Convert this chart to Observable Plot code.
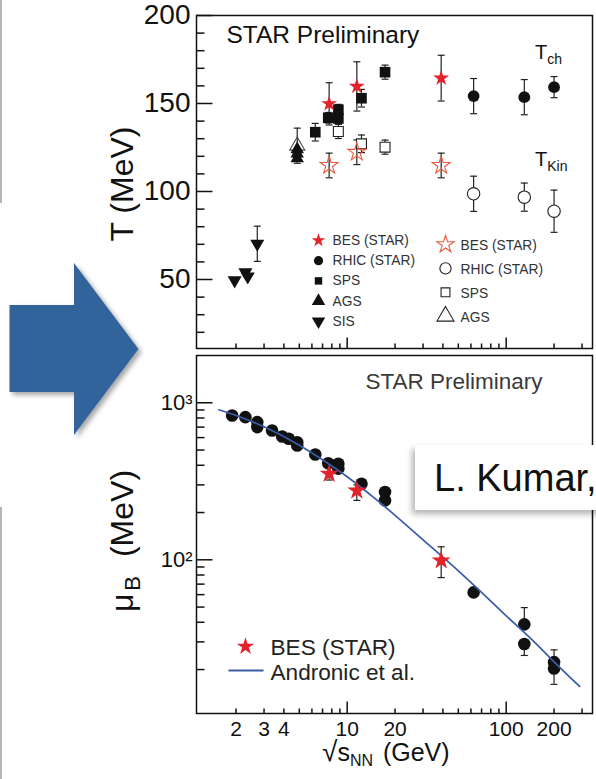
<!DOCTYPE html>
<html><head><meta charset="utf-8">
<script src="https://cdn.jsdelivr.net/npm/d3@7"></script>
<script src="https://cdn.jsdelivr.net/npm/@observablehq/plot@0.6"></script>
<style>
body{margin:0;background:#fff;}
#root{position:relative;width:596px;height:779px;overflow:hidden;background:#fff;font-family:"Liberation Sans",Arial,Helvetica,sans-serif;}
#root > svg, #root > div{position:absolute;}
</style></head><body><div id="root"></div>
<script>
// ---------- data ----------
// top panel: [sqrt(sNN) GeV, T MeV, error]
const besTch   = [[7.7,149.8,12],[11.5,159.7,14],[39,164.4,13]];
const rhicTch  = [[62.4,154.2,10],[130,153.6,10],[200,159.3,6]];
const spsTch   = [[6.3,133.7,5],[7.6,141.9,3],[8.8,141.5,3],[8.8,146.5,3],[12.3,153,5],[17.3,167.8,4]];
const agsTch   = [[4.85,118.8,0],[4.85,121.5,0],[4.85,124,0]];
const sisTch   = [[1.96,49.5,0],[2.29,54.1,0],[2.37,51.7,0],[2.72,70.3,10]];
const besTkin  = [[7.7,114.8,7],[11.5,122.3,7],[39,114.8,7]];
const rhicTkin = [[62.4,98.7,10],[130,96.8,8],[200,88.8,12]];
const spsTkin  = [[8.8,134.1,4],[12.3,127.1,5],[17.3,125.2,4]];
const agsTkin  = [[4.85,126,10]];
// bottom panel: [sqrt(sNN), muB]
const muData = [[1.89,830],[2.29,810],[2.72,753],[2.72,700],[3.37,666],[3.9,610],[4.29,590],[4.85,561],[4.85,535],[6.3,468],[7.6,412],[8.8,409],[8.8,381],[12.3,305],[17.3,270],[17.3,239],[62.4,62],[130,38.8],[130,29.1],[200,22.3],[200,20.3]];
// [sqrt(sNN), muB, low, high]
const muErr  = [[130,38.8,38.8,49.6],[130,29.1,24.6,29.1],[200,22.3,22.3,26.7],[200,20.3,16.1,20.3]];
const besMu  = [[7.7,353,322,388],[11.5,276,239,300],[39,99,77,121]];
const andronicE  = [1.56,2,3,5,7,10,15,20,30,50,70,100,150,200,290];
const andronicMu = [902,830,703,537,434,338,245,192,134,85,62,44,30,22.4,15.6];
// axes
const xMinor = [2,3,4,5,6,7,8,9,20,30,40,50,60,70,80,90,200,300];
const xMajor = [10,100];
const xLabels = [2,3,4,10,20,100,200];
const tMajor = [50,100,150,200];
const tMinor = [20,30,40,60,70,80,90,110,120,130,140,160,170,180,190];
const muMajor = [100,1000];
const muMinor = [20,30,40,50,60,70,80,90,200,300,400,500,600,700,800,900];
const muLabels = {100:"10²",1000:"10³"};
const legendTopLeft  = ["BES (STAR)","RHIC (STAR)","SPS","AGS","SIS"];
const legendTopRight = ["BES (STAR)","RHIC (STAR)","SPS","AGS"];
const legendBottom   = ["BES (STAR)","Andronic et al."];

// ---------- styles ----------
const FONT = "'Liberation Sans', Arial, Helvetica, sans-serif";
const RED = "#e4222b", ORANGE = "#ea5a3c", BLACK = "#111", BLUE = "#3b5ca6";
const sqrt3 = Math.sqrt(3);
const triDown = {draw(c, size){ const y = -Math.sqrt(size/(sqrt3*3)); c.moveTo(0,-2*y); c.lineTo(-sqrt3*y, y); c.lineTo(sqrt3*y, y); c.closePath(); }};
const hseg = (a, b) => ({draw(c){ c.moveTo(a,0); c.lineTo(b,0); }});
const vseg = (a, b) => ({draw(c){ c.moveTo(0,a); c.lineTo(0,b); }});
const cap = hseg(-3.5, 3.5);
const xScale = {type:"log", domain:[1.128,349], axis:null, label:null};
const tickStyle = {fill:"none", stroke:BLACK, strokeWidth:1.5};

const errBars = (data, lo, hi) => [
  Plot.ruleX(data, {x:d=>d[0], y1:lo, y2:hi, stroke:"#222", strokeWidth:1.2}),
  Plot.dot(data, {x:d=>d[0], y:lo, symbol:cap, fill:"none", stroke:"#222", strokeWidth:1.2}),
  Plot.dot(data, {x:d=>d[0], y:hi, symbol:cap, fill:"none", stroke:"#222", strokeWidth:1.2})
];
const errTop = (data) => errBars(data.filter(d=>d[2]>0), d=>d[1]-d[2], d=>d[1]+d[2]);

// ticks drawn inward from the frame
const yTicks = (vals, len) => Plot.dot(vals, {y:d=>d, frameAnchor:"left", symbol:hseg(0,len), ...tickStyle});
const xTicks = (vals, len) => Plot.dot(vals, {x:d=>d, frameAnchor:"bottom", symbol:vseg(0,-len), ...tickStyle});

// legend helpers
const legSym = (dx, dy, opts) => Plot.dot([0], {x:null, y:null, frameAnchor:"top-left", dx, dy, ...opts});
const legText = (t, dx, dy, size, fill) => Plot.text([t], {x:null, y:null, text:d=>d, frameAnchor:"top-left", lineAnchor:"middle", dx, dy, textAnchor:"start", fontSize:size, fill});

const leftSyms = [
  {symbol:"star", r:4.3, fill:RED},
  {symbol:"circle", r:4.6, fill:BLACK},
  {symbol:"square", r:4.2, fill:BLACK},
  {symbol:"triangle", r:5, fill:BLACK},
  {symbol:triDown, r:5, fill:BLACK}
];
const rightSyms = [
  {symbol:"star", r:5.4, fill:"none", stroke:ORANGE, strokeWidth:1.1},
  {symbol:"circle", r:5.6, fill:"white", stroke:"#222", strokeWidth:1.1},
  {symbol:"square", r:5, fill:"white", stroke:"#222", strokeWidth:1.1},
  {symbol:"triangle", r:6.3, fill:"none", stroke:"#222", strokeWidth:1.1}
];

const topMarks = [
  Plot.frame({stroke:BLACK, strokeWidth:1.5}),
  yTicks(tMinor, 8), yTicks(tMajor, 16),
  Plot.text(tMajor, {y:d=>d, text:d=>String(d), frameAnchor:"left", lineAnchor:"middle", dx:-6, textAnchor:"end", fontSize:28, fill:BLACK}),
  xTicks(xMinor, 5), xTicks(xMajor, 11),
  ...errTop(besTch), ...errTop(rhicTch), ...errTop(spsTch), ...errTop(sisTch),
  ...errTop(besTkin), ...errTop(rhicTkin), ...errTop(spsTkin), ...errTop(agsTkin),
  Plot.dot(spsTkin, {x:d=>d[0], y:d=>d[1], symbol:"square", r:5.6, fill:"white", stroke:"#222", strokeWidth:1.1}),
  Plot.dot(rhicTkin, {x:d=>d[0], y:d=>d[1], symbol:"circle", r:6.2, fill:"white", stroke:"#222", strokeWidth:1.1}),
  Plot.dot(besTkin, {x:d=>d[0], y:d=>d[1], symbol:"star", r:5.6, fill:"none", stroke:ORANGE, strokeWidth:1.1}),
  Plot.dot(agsTkin, {x:d=>d[0], y:d=>d[1], symbol:"triangle", r:5.6, fill:"none", stroke:"#444", strokeWidth:1.1}),
  Plot.dot(agsTch, {x:d=>d[0], y:d=>d[1], symbol:"triangle", r:5, fill:BLACK}),
  Plot.dot(sisTch, {x:d=>d[0], y:d=>d[1], symbol:triDown, r:5.2, fill:BLACK}),
  Plot.dot(spsTch, {x:d=>d[0], y:d=>d[1], symbol:"square", r:6, fill:BLACK}),
  Plot.dot(rhicTch, {x:d=>d[0], y:d=>d[1], symbol:"circle", r:5.9, fill:BLACK}),
  Plot.dot(besTch, {x:d=>d[0], y:d=>d[1], symbol:"star", r:5, fill:RED}),
  legText("STAR Preliminary", 30, 20, 24.5, BLACK),
  ...legendTopLeft.flatMap((t,i)=>[legSym(122, 225+20.2*i, leftSyms[i]), legText(t, 136, 225+20.2*i, 13.8, "#333")]),
  ...legendTopRight.flatMap((t,i)=>[legSym(249, 229+23.9*i, rightSyms[i]), legText(t, 264, 230+23.9*i, 13.8, "#333")])
];

const topPlot = Plot.plot({
  width:596, height:352, marginLeft:196, marginRight:4, marginTop:15, marginBottom:4,
  style:{fontFamily:FONT, background:"transparent", overflow:"visible", color:BLACK},
  x:xScale, y:{domain:[10.8,200], axis:null, label:null},
  marks: topMarks
});

const andronic = andronicE.map((e,i)=>[e, andronicMu[i]]);
const bottomPlot = Plot.plot({
  width:596, height:427, marginLeft:196, marginRight:4, marginTop:3, marginBottom:66,
  style:{fontFamily:FONT, background:"transparent", overflow:"visible", color:BLACK},
  x:xScale, y:{type:"log", domain:[10.5,2000], axis:null, label:null},
  marks:[
    Plot.frame({stroke:BLACK, strokeWidth:1.5}),
    yTicks(muMinor, 8), yTicks(muMajor, 16),
    Plot.text(muMajor, {y:d=>d, text:d=>muLabels[d], frameAnchor:"left", lineAnchor:"middle", dx:-4, textAnchor:"end", fontSize:22, fill:BLACK}),
    xTicks(xMinor, 5), xTicks(xMajor, 12),
    Plot.text(xLabels, {x:d=>d, text:d=>String(d), frameAnchor:"bottom", lineAnchor:"middle", dy:16, fontSize:21, fill:BLACK}),
    ...errBars(muErr, d=>d[2], d=>d[3]),
    ...errBars(besMu, d=>d[2], d=>d[3]),
    Plot.dot(muData, {x:d=>d[0], y:d=>d[1], r:6.3, fill:BLACK}),
    Plot.line(andronic, {x:d=>d[0], y:d=>d[1], stroke:BLUE, strokeWidth:1.7, curve:"monotone-x"}),
    Plot.dot(besMu, {x:d=>d[0], y:d=>d[1], symbol:"star", r:6, fill:RED}),
    legText("STAR Preliminary", 169, 26, 22.5, "#3a3a3a"),
    legSym(49, 291, {symbol:"star", r:5.5, fill:RED}),
    legText(legendBottom[0], 74, 292, 22.6, "#222"),
    legSym(49.5, 315, {symbol:hseg(-17.5,17.5), fill:"none", stroke:BLUE, strokeWidth:1.8}),
    legText(legendBottom[1], 74, 317, 22.6, "#222")
  ]
});

const root = document.getElementById("root");
topPlot.style.left = "0px"; topPlot.style.top = "0px";
bottomPlot.style.left = "0px"; bottomPlot.style.top = "352px";
root.appendChild(topPlot);
root.appendChild(bottomPlot);

// ---------- overlay: labels with subscripts, slide decorations ----------
const ov = d3.select(root).append("svg").attr("width",596).attr("height",779)
  .style("left","0px").style("top","0px").style("font-family",FONT);
const defs = ov.append("defs");
const f = defs.append("filter").attr("id","sh").attr("x","-20%").attr("y","-20%").attr("width","150%").attr("height","150%");
f.append("feDropShadow").attr("dx",3).attr("dy",3).attr("stdDeviation",2.5).attr("flood-color","#000").attr("flood-opacity",0.35);
const f2 = defs.append("filter").attr("id","sh2").attr("x","-20%").attr("y","-30%").attr("width","150%").attr("height","170%");
f2.append("feDropShadow").attr("dx",-3).attr("dy",4).attr("stdDeviation",3).attr("flood-color","#000").attr("flood-opacity",0.3);

// left slide borders
ov.append("line").attr("x1",1).attr("x2",1).attr("y1",0).attr("y2",203).attr("stroke","#b5b5b5").attr("stroke-width",2);
ov.append("line").attr("x1",1).attr("x2",1).attr("y1",507).attr("y2",779).attr("stroke","#b5b5b5").attr("stroke-width",2);
// arrow
ov.append("polygon").attr("points","9.5,305 74,305 74,263 138.5,349 74,435 74,392 9.5,392")
  .attr("fill","#31649a").attr("filter","url(#sh)");

// T_ch / T_Kin
const tch = ov.append("text").attr("x",535).attr("y",59).attr("font-size",20).attr("fill",BLACK);
tch.append("tspan").text("T");
tch.append("tspan").attr("dy",5).attr("font-size",14).text("ch");
const tkin = ov.append("text").attr("x",535).attr("y",166).attr("font-size",20).attr("fill",BLACK);
tkin.append("tspan").text("T");
tkin.append("tspan").attr("dy",5).attr("font-size",14).text("Kin");

// y labels
ov.append("text").attr("transform","translate(133,184) rotate(-90)").attr("text-anchor","middle")
  .attr("font-size",32).attr("fill",BLACK).text("T (MeV)");
const mu = ov.append("text").attr("transform","translate(133,541) rotate(-90)").attr("text-anchor","middle")
  .attr("font-size",32).attr("fill",BLACK);
mu.append("tspan").text("μ");
mu.append("tspan").attr("dy",7).attr("dx",3).attr("font-size",22).text("B");
mu.append("tspan").attr("dy",-7).attr("dx",10).text(" (MeV)");

// x label
const xl = ov.append("text").attr("x",322).attr("y",761).attr("font-size",25).attr("fill",BLACK);
xl.append("tspan").attr("font-size",28).text("√");
xl.append("tspan").text("s");
xl.append("tspan").attr("dy",5).attr("font-size",16).text("NN");
xl.append("tspan").attr("dy",-5).attr("dx",3).text(" (GeV)");

// citation box
ov.append("rect").attr("x",415).attr("y",445).attr("width",200).attr("height",65).attr("fill","#fff").attr("filter","url(#sh2)");
ov.append("text").attr("x",434).attr("y",491).attr("font-size",38).attr("fill",BLACK).text("L. Kumar,");
</script></body></html>
